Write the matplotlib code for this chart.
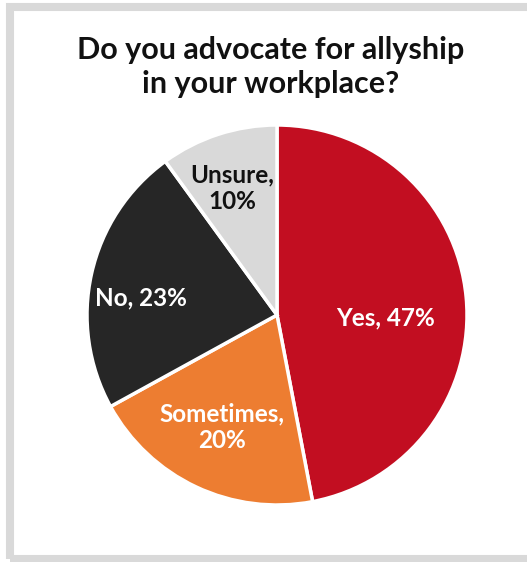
import numpy as np
import matplotlib.pyplot as plt
from matplotlib.patches import Rectangle

# Survey data
labels = ["Yes", "Sometimes", "No", "Unsure"]
shares = [47, 20, 23, 10]
colors = ["#C20E21", "#ED7D31", "#262626", "#D9D9D9"]
text_colors = ["white", "white", "white", "#111111"]
label_texts = ["Yes, 47%", "Sometimes,\n20%", "No, 23%", "Unsure,\n10%"]
label_radius = [0.57, 0.66, 0.72, 0.71]
label_shift = [-7, -1, 5.5, 1.5]  # degrees, nudges off the wedge middle

plt.rcParams["font.family"] = ["Lato", "DejaVu Sans"]

W, H = 527, 562
fig = plt.figure(figsize=(W / 100, H / 100), dpi=100)

# gray frame around the card
fig.patches.append(Rectangle((10 / W, 3.5 / H), 1.2, 1 - 10.5 / H, transform=fig.transFigure,
                             fill=False, edgecolor="#D9D9D9", linewidth=5.8))

cx, cy, r = 277, 315, 190
ax = fig.add_axes([(cx - r) / W, (H - cy - r) / H, 2 * r / W, 2 * r / H])
wedges, _ = ax.pie(shares, colors=colors, startangle=90, counterclock=False,
                   wedgeprops=dict(edgecolor="white", linewidth=2.5))
ax.set_xlim(-1, 1)
ax.set_ylim(-1, 1)
ax.set_aspect("equal")

for w, txt, tc, rd, sh in zip(wedges, label_texts, text_colors, label_radius, label_shift):
    ang = np.deg2rad((w.theta1 + w.theta2) / 2 + sh)
    ax.text(rd * np.cos(ang), rd * np.sin(ang), txt, ha="center", va="center",
            color=tc, fontsize=17.5, fontweight="bold", linespacing=1.2)

fig.text(0.513, 1 - 67 / H, "Do you advocate for allyship\nin your workplace?",
         ha="center", va="center", fontsize=22, fontweight="bold", color="#111111",
         linespacing=1.25)

fig.savefig("out.png", dpi=100)
